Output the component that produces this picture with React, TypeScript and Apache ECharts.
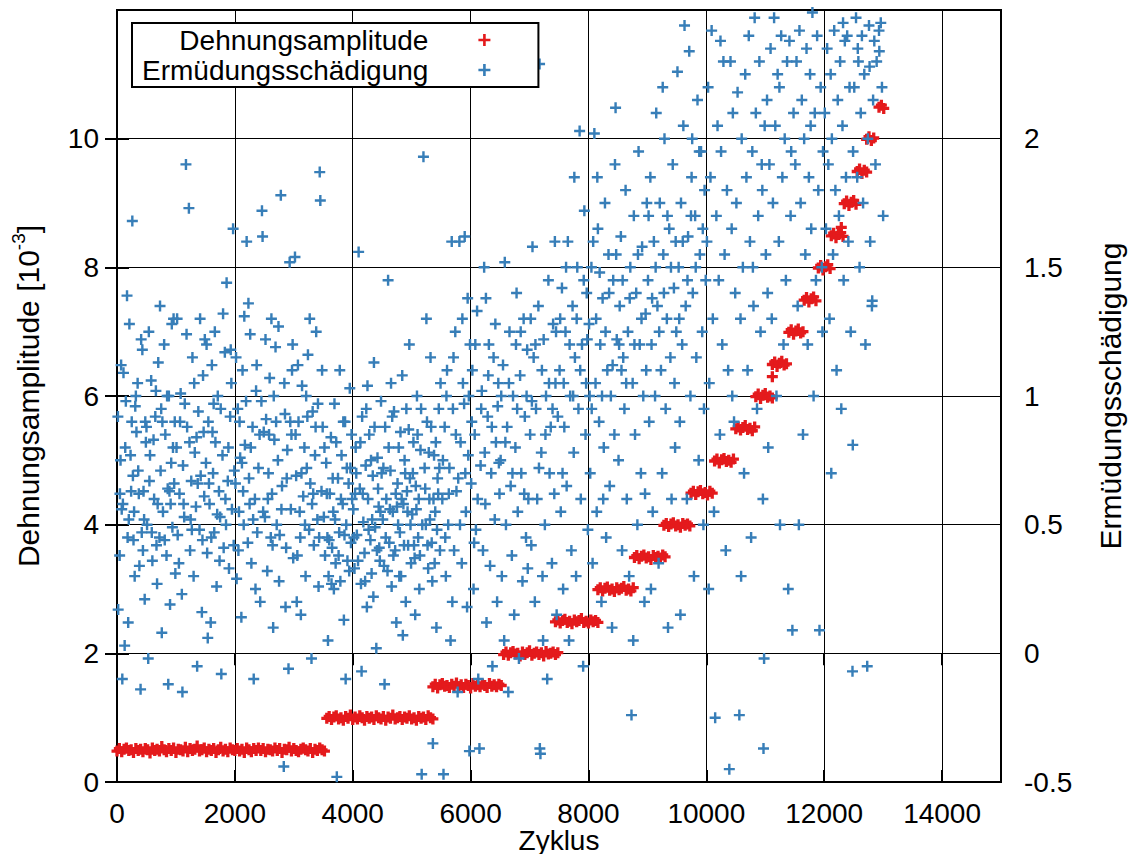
import { useEffect, useRef } from "react";
import * as echarts from "echarts";

// ---------- axes ----------
const xMin = 0;
const xMax = 15000;
const xInterval = 2000;
const leftMin = 0;
const leftMax = 12;
const leftInterval = 2;
const rightMin = -0.5;
const rightMax = 2.5;
const rightInterval = 0.5;

const seriesNames = ["Dehnungsamplitude", "Ermüdungsschädigung"];
const xAxisTitle = "Zyklus";
const rightAxisTitle = "Ermüdungsschädigung";

// ---------- Dehnungsamplitude (left axis, 10^-3), recorded every redStep cycles per load block ----------
const redStep = 40;
const redStarts = [0, 3560, 5360, 6560, 7440, 8160, 8780, 9280, 9740, 10140, 10500, 10840, 11120, 11400, 11660, 11900, 12120, 12340, 12560, 12720, 12930];
const redValues: number[][] = [
  [0.48,0.52,0.47,0.51,0.53,0.49,0.50,0.46,0.52,0.49,
   0.51,0.47,0.52,0.50,0.45,0.53,0.49,0.51,0.48,0.55,
   0.50,0.47,0.52,0.49,0.53,0.46,0.51,0.50,0.48,0.54,
   0.47,0.52,0.49,0.51,0.56,0.48,0.50,0.53,0.47,0.51,
   0.49,0.52,0.46,0.50,0.54,0.48,0.51,0.47,0.53,0.50,
   0.49,0.52,0.48,0.51,0.46,0.53,0.50,0.47,0.52,0.49,
   0.53,0.49,0.52,0.47,0.51,0.50,0.48,0.53,0.49,0.52,
   0.46,0.51,0.50,0.54,0.48,0.52,0.49,0.47,0.51,0.53,
   0.50,0.48,0.52,0.46,0.51,0.49,0.53,0.50,0.48],
  [0.99,1.02,0.97,1.01,1.03,0.98,1.00,0.96,1.02,0.99,
   1.04,0.97,1.01,0.98,1.03,1.00,0.96,1.02,0.99,1.01,
   0.97,1.03,1.00,0.98,1.02,0.96,1.01,0.99,1.04,0.98,
   1.00,1.02,0.97,1.01,0.99,1.03,0.98,1.00,0.96,1.02,
   0.99,1.01,0.97,1.03,1.00,0.98],
  [1.48,1.52,1.46,1.51,1.53,1.49,1.50,1.47,1.52,1.49,
   1.54,1.48,1.51,1.47,1.52,1.50,1.46,1.53,1.49,1.51,
   1.48,1.52,1.50,1.47,1.53,1.49,1.51,1.48,1.52,1.50],
  [1.98,2.02,1.97,2.01,2.03,1.99,2.00,1.96,2.02,1.98,
   2.01,2.04,1.97,2.00,2.02,1.98,2.01,1.96,2.03,1.99,
   2.00,2.02,1.98,2.01],
  [2.49,2.52,2.47,2.51,2.53,2.48,2.50,2.46,2.52,2.49,
   2.51,2.54,2.48,2.50,2.47,2.52,2.49,2.51,2.48],
  [2.99,3.02,2.97,3.01,3.03,2.98,3.00,2.96,3.02,2.99,3.01,3.04,2.98,3.00,2.97,3.02],
  [3.49,3.52,3.47,3.51,3.53,3.48,3.50,3.46,3.52,3.49,3.51,3.48,3.53,3.50],
  [3.99,4.02,3.97,4.01,4.03,3.98,4.00,3.96,4.02,3.99,4.01,3.98],
  [4.49,4.52,4.47,4.51,4.53,4.48,4.50,4.46,4.52,4.49],
  [4.99,5.02,4.96,5.01,5.03,4.98,5.00,4.97,5.02],
  [5.49,5.52,5.47,5.51,5.54,5.48,5.50,5.46,5.52],
  [5.99,6.03,5.96,6.01,6.04,5.98,6.00,5.97],
  [6.49,6.53,6.46,6.51,6.54,6.48,6.50],
  [6.99,7.03,6.96,7.01,7.04,6.98,7.00],
  [7.49,7.53,7.46,7.51,7.54,7.48],
  [7.99,8.03,7.96,8.01,8.04,7.98],
  [8.49,8.53,8.46,8.51,8.54,8.48],
  [8.99,9.03,8.96,9.01,9.04,8.98],
  [9.49,9.53,9.46,9.51,9.48],
  [9.99,10.03,9.97,10.01],
  [10.49,10.52,10.47],
];
const redExtra: number[][] = [[11120, 6.3], [12290, 8.62]];

// ---------- Ermüdungsschädigung (right axis) [cycle, damage] ----------
const damageData: number[][] = [
  [20,0.17],[50,0.62],[90,-0.1],[110,1.09],[150,0.98],[170,1.39],[200,0.52],[230,0.77],[260,1.68],[280,0.44],[310,0.96],[330,0.86],[360,0.71],[380,0.34],[400,-0.14],[430,1.18],[450,0.63],[470,0.21],[480,0.9],[60,0.75],[130,0.03],[240,0.63],[300,0.3],[350,1.05],[420,0.47],[490,0.82],[80,0.56],[190,0.12],[270,0.69],[440,0.4],
  [510,0.5],[530,-0.02],[560,0.77],[580,1.06],[600,0.36],[630,0.6],[650,0.92],[680,0.27],[700,1.13],[720,0.45],[740,0.71],[760,0.08],[780,0.55],[800,1.2],[820,0.85],[840,0.38],[860,0.64],[880,1.0],[900,0.19],[920,0.74],[940,0.49],[960,1.3],[980,0.9],[990,0.31],[550,0.67],[670,0.42],[750,0.95],[870,-0.12],[910,0.58],[970,0.66],
  [1010,0.8],[1030,0.46],[1060,0.62],[1080,1.01],[1100,0.23],[1120,0.73],[1140,0.53],[1170,1.9],[1190,0.88],[1220,1.73],[1240,0.4],[1260,0.67],[1280,1.15],[1300,0.3],[1320,0.78],[1340,0.57],[1360,-0.05],[1380,0.94],[1400,0.48],[1420,0.69],[1440,0.16],[1460,1.08],[1480,0.61],[1050,0.35],[1150,0.97],[1250,0.52],[1350,0.84],[1450,0.44],[1490,1.22],[1110,-0.15],
  [1510,0.74],[1530,0.39],[1550,0.9],[1570,0.58],[1590,0.12],[1610,1.12],[1630,0.7],[1650,0.47],[1670,0.82],[1690,0.26],[1710,1.0],[1730,0.63],[1750,0.53],[1770,-0.08],[1790,0.77],[1810,0.41],[1830,1.17],[1860,1.44],[1880,0.67],[1900,0.33],[1920,0.92],[1950,0.56],[1970,1.65],[1990,0.71],[1540,0.06],[1640,0.97],[1740,0.36],[1840,0.6],[1940,1.05],[1600,0.45],
  [2010,0.66],[2030,0.29],[2050,0.95],[2070,0.55],[2090,0.76],[2110,0.14],[2130,1.1],[2150,0.5],[2170,0.81],[2200,1.6],[2220,0.43],[2240,0.68],[2260,1.24],[2280,0.35],[2300,0.88],[2320,-0.1],[2340,0.6],[2360,1.02],[2380,0.47],[2400,0.72],[2430,0.2],[2460,1.72],[2470,1.62],[2490,0.86],[2060,0.4],[2160,1.31],[2250,0.58],[2350,0.25],[2450,0.98],[2120,0.74],
  [2510,0.53],[2530,0.91],[2550,0.32],[2570,0.7],[2590,1.07],[2610,0.45],[2630,0.62],[2650,0.1],[2670,0.83],[2690,1.19],[2710,0.5],[2730,0.75],[2750,0.28],[2780,1.78],[2800,0.65],[2830,-0.44],[2850,0.93],[2870,0.41],[2890,0.79],[2910,-0.06],[2930,1.52],[2950,0.56],[2970,1.1],[2990,0.37],[2560,0.6],[2660,1.0],[2760,0.46],[2860,0.18],[2960,0.85],[2620,1.3],
  [3020,1.54],[3040,0.69],[3060,0.38],[3080,0.9],[3100,0.55],[3120,0.15],[3140,1.04],[3160,0.61],[3180,0.8],[3200,0.3],[3220,0.72],[3240,1.16],[3260,0.48],[3280,0.66],[3300,-0.02],[3320,0.94],[3340,0.42],[3360,0.77],[3380,1.25],[3400,0.52],[3420,0.26],[3440,1.87],[3450,1.76],[3470,0.63],[3490,0.88],[3110,0.45],[3210,1.0],[3310,0.58],[3410,0.97],[3050,0.2],
  [3510,0.53],[3530,0.38],[3550,0.74],[3570,0.45],[3590,0.3],[3610,0.62],[3630,0.84],[3650,0.41],[3670,0.55],[3690,0.97],[3710,0.35],[3730,-0.48],[3750,0.68],[3770,0.47],[3790,0.28],[3810,0.77],[3830,0.58],[3850,0.13],[3870,0.9],[3890,0.5],[3910,0.36],[3930,0.66],[3950,1.03],[3970,0.43],[3990,0.6],[3580,0.05],[3680,0.25],[3780,1.1],[3880,-0.1],[3960,0.72],
  [4010,0.56],[4030,0.33],[4050,0.8],[4070,0.46],[4100,1.56],[4120,0.64],[4140,0.27],[4160,0.92],[4180,0.51],[4200,0.39],[4220,0.73],[4240,0.18],[4260,0.6],[4280,0.85],[4300,0.44],[4320,0.31],[4340,0.69],[4360,1.13],[4380,0.49],[4400,0.02],[4420,0.76],[4440,0.57],[4460,0.36],[4480,0.98],[4040,0.62],[4150,-0.07],[4250,1.04],[4350,0.22],[4450,0.41],[4490,0.7],
  [4510,0.52],[4530,0.34],[4550,0.88],[4570,0.6],[4600,1.45],[4620,0.43],[4640,0.71],[4660,0.26],[4680,0.55],[4700,0.94],[4720,0.4],[4740,0.12],[4760,0.66],[4780,0.8],[4800,0.47],[4820,0.3],[4840,1.08],[4860,0.58],[4880,0.75],[4900,0.2],[4920,0.63],[4940,0.42],[4960,1.2],[4980,0.5],[4540,-0.12],[4650,1.05],[4750,0.57],[4850,0.07],[4950,0.87],[4990,0.35],
  [5010,0.54],[5030,0.82],[5050,0.37],[5070,0.65],[5090,1.0],[5110,0.45],[5130,0.25],[5170,-0.47],[5200,1.93],[5220,0.72],[5240,0.5],[5260,0.9],[5280,0.33],[5300,0.6],[5320,1.15],[5340,0.43],[5360,-0.35],[5380,0.77],[5400,0.55],[5420,0.1],[5440,0.68],[5460,0.95],[5480,0.4],[5060,0.15],[5150,0.79],[5250,1.3],[5350,0.28],[5450,0.62],[5490,1.05],
  [5520,0.6],[5540,-0.47],[5560,0.88],[5580,0.3],[5600,1.1],[5620,0.5],[5640,0.72],[5660,0.05],[5680,1.6],[5700,0.95],[5720,0.4],[5740,1.25],[5760,0.63],[5780,-0.15],[5810,1.6],[5830,0.82],[5850,0.35],[5870,1.05],[5900,1.62],[5920,0.55],[5940,0.18],[5960,0.77],[5980,-0.38],[5990,1.2],[5570,0.45],[5690,0.2],[5790,0.68],[5890,0.97],[5950,1.38],
  [6010,0.66],[6030,1.1],[6050,0.25],[6070,0.85],[6090,0.48],[6110,1.33],[6130,-0.1],[6150,-0.37],[6170,0.73],[6190,1.02],[6210,0.4],[6230,1.5],[6250,0.58],[6270,0.12],[6290,0.92],[6310,1.2],[6330,0.34],[6350,0.7],[6370,-0.05],[6390,1.15],[6410,0.52],[6430,0.82],[6450,0.2],[6470,1.05],[6490,0.62],[6060,0.43],[6260,1.38],[6460,0.96],
  [6510,0.75],[6530,0.3],[6550,1.12],[6580,1.52],[6600,0.5],[6620,0.88],[6640,-0.15],[6660,1.25],[6680,0.65],[6700,0.38],[6720,1.0],[6740,0.15],[6760,0.8],[6780,1.4],[6800,0.55],[6820,-0.02],[6840,1.08],[6860,0.7],[6880,0.28],[6900,1.3],[6920,0.92],[6940,0.45],[6960,1.18],[6980,0.6],[6570,0.05],[6770,1.2],[6970,0.33],
  [7010,0.85],[7030,0.42],[7050,1.58],[7070,1.15],[7090,0.2],[7110,0.95],[7130,0.6],[7150,1.35],[7170,2.29],[7175,-0.37],[7185,-0.39],[7200,0.78],[7220,0.3],[7240,1.22],[7260,0.5],[7280,1.0],[7300,-0.1],[7320,1.45],[7340,0.7],[7360,0.88],[7380,0.35],[7400,1.28],[7420,0.62],[7440,1.05],[7460,0.15],[7480,0.92],[7020,1.3],[7230,0.05],[7430,1.6],
  [7510,1.1],[7530,0.55],[7550,1.42],[7570,0.25],[7590,0.88],[7610,1.25],[7630,0.65],[7650,1.6],[7670,0.05],[7690,1.0],[7710,0.4],[7730,1.35],[7750,0.78],[7770,1.15],[7790,0.3],[7810,1.5],[7830,0.95],[7850,2.03],[7870,0.6],[7890,1.2],[7910,-0.05],[7930,1.72],[7950,0.85],[7970,1.4],[7990,0.48],[7560,0.7],[7760,1.85],[7960,1.05],
  [8010,1.28],[8030,0.7],[8050,1.5],[8070,0.35],[8100,2.02],[8120,1.05],[8140,0.55],[8160,1.65],[8180,0.9],[8200,1.2],[8220,0.2],[8240,1.38],[8260,0.8],[8280,1.75],[8300,0.45],[8320,1.1],[8340,1.55],[8360,0.65],[8380,1.0],[8400,0.1],[8420,1.45],[8440,0.85],[8460,2.12],[8480,1.22],[8055,0.95],[8250,0.6],[8450,1.9],[8150,1.85],
  [8510,0.75],[8530,1.35],[8550,1.62],[8570,0.4],[8590,1.15],[8610,0.95],[8630,1.8],[8650,0.6],[8670,1.25],[8690,0.3],[8710,1.5],[8730,-0.24],[8750,1.05],[8770,1.7],[8790,0.85],[8810,1.4],[8830,0.5],[8850,1.95],[8870,1.2],[8890,0.7],[8910,1.58],[8930,1.0],[8950,0.2],[8970,1.32],[8990,1.75],[8560,1.1],[8760,0.05],[8960,0.62],
  [9010,1.45],[9030,0.9],[9050,1.85],[9070,1.2],[9090,0.55],[9110,1.6],[9130,1.0],[9150,2.1],[9170,1.35],[9190,0.35],[9210,1.75],[9230,1.1],[9250,0.7],[9270,1.55],[9290,2.0],[9310,0.95],[9330,1.3],[9350,0.1],[9370,1.65],[9390,1.15],[9410,0.6],[9430,1.9],[9450,1.42],[9470,0.8],[9490,1.25],[9060,0.25],[9260,2.2],[9460,1.05],
  [9510,2.26],[9530,1.5],[9550,0.9],[9570,1.75],[9590,1.2],[9610,2.05],[9630,2.44],[9650,1.35],[9670,0.6],[9690,1.62],[9710,2.34],[9730,1.0],[9750,1.85],[9770,1.4],[9790,0.3],[9810,1.7],[9830,1.15],[9850,2.15],[9870,0.75],[9890,1.55],[9910,1.95],[9930,1.25],[9950,0.5],[9970,1.8],[9990,1.45],[9560,0.15],[9760,2.0],[9960,0.95],
  [10010,1.6],[10030,2.2],[10050,1.05],[10070,1.85],[10090,2.42],[10110,1.3],[10130,0.55],[10150,-0.25],[10170,1.7],[10190,2.05],[10210,1.45],[10230,0.85],[10250,1.95],[10270,1.2],[10290,2.3],[10310,1.55],[10330,0.4],[10350,1.8],[10370,1.1],[10390,-0.45],[10410,2.3],[10430,1.65],[10450,2.1],[10470,0.9],[10490,1.4],[10040,0.25],[10240,2.38],[10440,1.0],
  [10510,1.75],[10530,2.18],[10560,-0.24],[10580,1.3],[10600,2.0],[10620,1.5],[10640,0.7],[10660,2.25],[10680,1.85],[10700,1.1],[10720,2.4],[10740,1.6],[10760,0.45],[10780,1.95],[10800,1.35],[10820,2.47],[10840,2.1],[10860,0.95],[10880,1.7],[10900,2.3],[10920,1.25],[10940,1.9],[10960,0.6],[10970,-0.37],[10980,-0.02],[10990,2.05],[10590,0.3],[10790,1.5],[10950,1.8],
  [11010,1.55],[11030,2.15],[11050,0.8],[11070,1.9],[11090,2.35],[11110,1.3],[11130,1.75],[11150,2.47],[11170,2.05],[11190,1.0],[11210,2.25],[11230,1.6],[11250,0.5],[11270,2.4],[11290,1.85],[11310,1.2],[11330,2.0],[11350,1.45],[11370,2.3],[11390,0.25],[11410,2.38],[11430,1.7],[11460,0.09],[11480,2.1],[11040,1.4],[11240,2.2],[11440,1.95],
  [11510,1.9],[11530,2.3],[11550,1.35],[11580,2.42],[11600,1.75],[11620,2.15],[11640,0.85],[11660,2.0],[11680,1.55],[11700,2.35],[11720,1.2],[11740,1.85],[11760,2.25],[11780,1.65],[11800,2.49],[11820,1.0],[11840,2.1],[11860,1.45],[11880,2.4],[11900,1.8],[11920,0.09],[11940,2.2],[11960,1.5],[11980,1.95],[11570,0.5],[11770,2.05],[11970,1.25],
  [12010,2.1],[12030,1.65],[12050,2.35],[12070,1.9],[12090,1.3],[12110,2.25],[12130,2.0],[12150,1.55],[12170,2.42],[12190,1.8],[12210,1.1],[12230,2.15],[12250,1.7],[12270,2.3],[12290,0.95],[12310,2.05],[12330,1.45],[12350,2.38],[12370,1.85],[12390,2.4],[12410,1.6],[12430,2.2],[12450,1.25],[12480,-0.07],[12485,0.81],[12490,1.95],[12120,0.7],[12320,2.45],
  [12510,2.2],[12540,2.47],[12560,1.85],[12580,2.3],[12600,1.5],[12620,2.1],[12640,2.4],[12660,1.75],[12680,2.25],[12700,1.2],[12730,-0.05],[12740,2.0],[12760,2.44],[12780,1.6],[12810,1.35],[12815,1.37],[12830,2.15],[12850,2.38],[12870,1.9],[12890,2.3],[12930,2.42],[12935,2.34],[12960,2.45],[12980,2.2],[13000,1.7],[12570,2.35],[12770,2.28],
];

// additional readings in the densest parts of the cloud
const damageDense: number[][] = [
  [15,0.92],[45,0.38],[70,1.12],[100,0.58],[140,0.8],[180,0.45],[210,1.28],[250,0.9],[290,0.55],[320,1.0],[370,0.62],[410,1.22],[460,0.52],[500,0.88],
  [540,1.25],[590,0.47],[620,0.83],[660,1.02],[690,0.58],[730,1.35],[770,0.9],[810,0.44],[850,1.0],[890,0.63],[930,1.28],[950,0.8],
  [1020,1.3],[1070,0.9],[1130,0.58],[1180,1.24],[1230,0.82],[1270,0.48],[1310,1.05],[1370,0.66],[1410,1.3],[1470,0.86],
  [1520,1.2],[1560,0.66],[1620,0.86],[1660,1.25],[1700,0.54],[1760,0.95],[1800,1.32],[1850,0.5],[1890,0.8],[1930,1.18],[1980,0.42],
  [2020,1.15],[2080,0.9],[2140,0.63],[2190,0.98],[2230,1.36],[2270,0.8],[2310,0.52],[2370,1.12],[2420,0.85],[2480,0.55],
  [2520,1.22],[2580,0.85],[2640,0.42],[2700,0.9],[2740,1.27],[2790,0.56],[2840,1.05],[2880,0.68],[2940,0.9],[2980,1.2],
  [3030,0.85],[3070,1.12],[3130,0.7],[3190,0.5],[3230,0.92],[3270,1.3],[3330,0.62],[3370,0.88],[3430,0.45],[3480,1.1],
  [3520,0.8],[3560,0.62],[3600,0.44],[3640,0.27],[3660,0.68],[3700,0.52],[3720,0.82],[3760,0.38],[3800,0.6],[3840,0.9],[3860,0.46],[3900,0.72],[3940,0.32],[3980,0.85],
  [4020,0.45],[4060,0.7],[4090,0.36],[4130,0.82],[4170,0.62],[4210,0.28],[4230,0.95],[4270,0.48],[4310,0.75],[4330,0.52],[4370,0.88],[4410,0.4],[4430,0.64],[4470,0.55],
  [4520,0.72],[4560,0.45],[4590,0.32],[4610,0.8],[4630,0.56],[4670,0.92],[4690,0.38],[4730,0.62],[4770,0.5],[4790,0.3],[4810,0.86],[4830,0.6],[4870,0.42],[4890,0.7],[4910,0.95],[4930,0.55],[4970,0.68],
  [5020,0.7],[5040,0.42],[5080,0.56],[5100,0.85],[5120,0.6],[5140,0.38],[5160,0.95],[5180,0.5],[5230,0.64],[5270,0.42],[5290,0.78],[5310,0.52],[5330,0.88],[5370,0.6],[5390,0.35],[5410,0.82],[5430,0.48],[5470,0.72],
  [5530,0.75],[5590,1.0],[5630,0.62],[5710,1.15],[5750,0.85],[5820,0.5],[5860,1.3],[5910,0.7],[5970,1.0],
  [6020,0.9],[6080,1.2],[6120,0.6],[6180,0.95],[6240,0.78],[6300,1.08],[6360,0.88],[6420,1.28],[6480,0.74],
  [6520,1.0],[6590,0.82],[6650,1.05],[6710,0.7],[6790,0.95],[6850,1.25],[6910,0.62],[6950,1.0],
  [7040,0.98],[7100,1.2],[7160,0.72],[7210,1.1],[7270,0.85],[7330,1.05],[7390,0.95],[7450,1.25],
  [7520,1.3],[7580,1.05],[7620,1.5],[7680,1.2],[7740,1.0],[7800,1.3],[7860,1.1],[7920,1.45],[7980,1.22],
  [8020,1.0],[8080,1.6],[8130,1.3],[8190,1.48],[8230,1.0],[8290,1.25],[8350,1.4],[8410,1.12],[8470,1.55],
  [8520,1.2],[8580,1.45],[8640,1.05],[8700,1.38],[8780,1.2],[8840,1.55],[8900,1.3],[8980,1.1],
  [9020,1.7],[9080,1.38],[9140,1.5],[9200,1.25],[9280,1.4],[9340,1.7],[9400,1.5],[9480,1.6],
  [9540,1.3],[9600,1.6],[9680,1.45],[9740,1.7],[9820,1.5],[9880,1.95],[9940,1.65],
];

const PLUS = "path://M39,0H61V39H100V61H61V100H39V61H0V39H39Z";
const PLUS_BOLD = "path://M35,0H65V35H100V65H65V100H35V65H0V35H35Z";
const FONT = "'Liberation Sans', Arial, sans-serif";

function buildRed(): number[][] {
  const pts: number[][] = [];
  redStarts.forEach((s, i) => {
    redValues[i].forEach((v, j) => pts.push([s + j * redStep, v]));
  });
  redExtra.forEach((p) => pts.push(p));
  return pts;
}

export default function App() {
  const ref = useRef<HTMLDivElement>(null);
  useEffect(() => {
    if (!ref.current) return;
    const chart = echarts.init(ref.current, undefined, { renderer: "svg" });
    const tick = { show: true, inside: true, length: 12, lineStyle: { color: "#000", width: 2 } };
    const label = { color: "#000", fontSize: 28, fontFamily: FONT };
    chart.setOption({
      animation: false,
      backgroundColor: "#fff",
      textStyle: { fontFamily: FONT },
      grid: {
        left: 117, right: 133, top: 10, bottom: 72,
        outerBoundsMode: "none", containLabel: false,
        show: true, borderColor: "#000", borderWidth: 2, backgroundColor: "transparent",
      },
      legend: {
        orient: "vertical",
        left: 132,
        top: 23,
        align: "right",
        selectedMode: false,
        data: [
          { name: seriesNames[0], icon: PLUS },
          { name: seriesNames[1], icon: PLUS },
        ],
        itemWidth: 12,
        itemHeight: 12,
        itemGap: 2,
        padding: [3, 48, 3, 10],
        backgroundColor: "#fff",
        borderColor: "#000",
        borderWidth: 2,
        textStyle: { ...label, lineHeight: 28, padding: [0, 45, 0, 0] },
      },
      xAxis: [
        {
          type: "value", min: xMin, max: xMax, interval: xInterval,
          name: xAxisTitle, nameLocation: "middle", nameGap: 46, nameMoveOverlap: false,
          nameTextStyle: { ...label, lineHeight: 24 },
          axisLine: { show: false },
          axisTick: tick,
          axisLabel: { ...label, lineHeight: 22, margin: 20, showMaxLabel: false, formatter: (v: number) => String(v) },
          splitLine: { show: true, lineStyle: { color: "#000", width: 1 } },
        },
        {
          type: "value", position: "top", min: xMin, max: xMax, interval: xInterval,
          axisLine: { show: false }, axisTick: tick, axisLabel: { show: false }, splitLine: { show: false },
        },
      ],
      yAxis: [
        {
          type: "value", min: leftMin, max: leftMax, interval: leftInterval, position: "left",
          name: "{a|Dehnungsamplitude [10}{s|-3}{a|]}", nameLocation: "middle", nameRotate: 90, nameGap: 70,
          nameMoveOverlap: false,
          nameTextStyle: {
            color: "#000",
            rich: {
              a: { fontSize: 30, color: "#000", fontFamily: FONT, lineHeight: 38 },
              s: { fontSize: 19, color: "#000", fontFamily: FONT, lineHeight: 19, verticalAlign: "top" },
            },
          },
          axisLine: { show: false },
          axisTick: tick,
          axisLabel: { ...label, margin: 18, showMaxLabel: false },
          splitLine: { show: true, lineStyle: { color: "#000", width: 1 } },
        },
        {
          type: "value", min: rightMin, max: rightMax, interval: rightInterval, position: "right",
          name: rightAxisTitle, nameLocation: "middle", nameRotate: 90, nameGap: 94,
          nameMoveOverlap: false,
          nameTextStyle: { ...label, fontSize: 30 },
          axisLine: { show: false },
          axisTick: tick,
          axisLabel: { ...label, margin: 23, showMaxLabel: false },
          splitLine: { show: false },
        },
      ],
      series: [
        {
          name: seriesNames[0], type: "scatter", xAxisIndex: 0, yAxisIndex: 0,
          data: buildRed(), symbol: PLUS_BOLD, symbolSize: 11,
          itemStyle: { color: "#e41a1c", opacity: 1 },
          emphasis: { disabled: true },
        },
        {
          name: seriesNames[1], type: "scatter", xAxisIndex: 0, yAxisIndex: 1,
          data: damageData.concat(damageDense), symbol: PLUS, symbolSize: 11,
          itemStyle: { color: "#377eb8", opacity: 1 },
          emphasis: { disabled: true },
        },
      ],
    });
    return () => chart.dispose();
  }, []);
  return <div ref={ref} style={{ position: "fixed", left: 0, top: 0, width: 1134, height: 854 }} />;
}
